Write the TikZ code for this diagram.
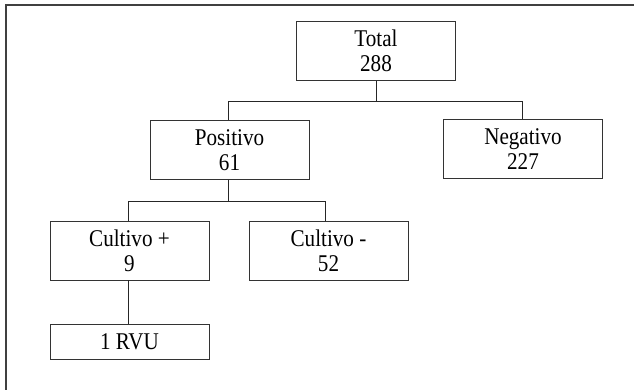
\documentclass[tikz,border=0pt]{standalone}
\usepackage{fontspec}
\setmainfont{Liberation Serif}[FakeStretch=0.88]

\tikzset{
  box/.style={draw=black!80, line width=0.9pt, minimum width=159pt, align=center,
    inner sep=0pt, font=\fontsize{24}{25}\selectfont},
  tall/.style={minimum height=59pt},
  flat/.style={minimum height=35pt},
  link/.style={draw=black!85, line width=0.9pt}
}

\begin{document}
\begin{tikzpicture}[x=1pt, y=-1pt]
    \useasboundingbox (0,0) rectangle (634,389);

    % Frame
    \draw[black!75, line width=1.6pt] (6,392) -- (6,5) -- (637,5);

    % Boxes
    \node[box, tall] (total)  at (376,51)    {Total\\288};
    \node[box, tall] (pos)    at (229.5,150) {Positivo\\61};
    \node[box, tall] (neg)    at (523,149)   {Negativo\\227};
    \node[box, tall] (cplus)  at (129.5,250.5) {Cultivo +\\9};
    \node[box, tall] (cminus) at (328.5,250.5) {Cultivo -\\52};
    \node[box, flat] (rvu)    at (129.5,341.5) {1 RVU};

    % Junctions
    \coordinate (j1) at (376,101);
    \coordinate (j2) at (228,201);

    % Connectors
    \draw[link] (total.south) -- (j1);
    \draw[link] (j1) -| ([xshift=-1.5pt]pos.north);
    \draw[link] (j1) -| ([xshift=-1pt]neg.north);
    \draw[link] ([xshift=-1.5pt]pos.south) -- (j2);
    \draw[link] (j2) -| ([xshift=-1.5pt]cplus.north);
    \draw[link] (j2) -| ([xshift=-3.5pt]cminus.north);
    \draw[link] ([xshift=-1.5pt]cplus.south) -- ([xshift=-1.5pt]rvu.north);
\end{tikzpicture}
\end{document}
